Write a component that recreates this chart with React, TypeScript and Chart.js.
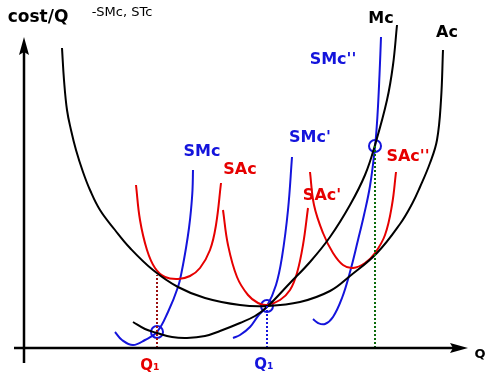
import React, { useEffect, useRef } from "react";
import { Chart, registerables } from "chart.js";

Chart.register(...registerables);

// Curves in (Q, cost/Q) units
const acQ = [38, 40, 43, 47, 52, 59, 66, 76, 91, 106, 129, 154, 181, 216, 243, 276, 306, 326, 353, 376, 388, 396, 406, 413, 417, 419];
const acC = [300, 268, 238, 218, 198, 176, 158, 138, 118, 100, 78, 61, 50, 43, 42, 46, 57, 72, 95, 124, 144, 161, 185, 208, 248, 298];

const mcQ = [109, 121, 133, 148, 163, 181, 196, 216, 231, 243, 266, 286, 306, 326, 341, 351, 363, 369, 373];
const mcC = [26, 19, 15, 11, 10, 12, 17, 25, 32, 41, 65, 86, 111, 143, 173, 203, 248, 283, 323];

const smcQ = [91, 98, 109, 121, 133, 144, 154, 158, 162, 165, 167, 168.5, 169];
const smcC = [16, 8, 3, 8, 16, 36, 61, 78, 100, 120, 138, 158, 178];

const smc1Q = [209, 216, 226, 234, 243, 252, 258, 264, 268];
const smc1C = [10, 13, 21, 32, 42, 63, 91, 138, 191];

const smc2Q = [289, 294, 301, 309, 318, 326, 334, 340, 346, 351, 353.5, 355.5, 357];
const smc2C = [29, 25, 24, 31, 50, 76, 108, 133, 162, 201, 233, 273, 311];

const sacQ = [112, 116, 123, 131, 141, 154, 166, 176, 186, 192, 197];
const sacC = [163, 128, 98, 80, 71, 69, 72, 80, 98, 123, 165];

const sac1Q = [199, 204, 213, 224, 234, 243, 256, 266, 273, 279, 284];
const sac1C = [138, 103, 71, 53, 45, 43, 48, 58, 75, 103, 140];

const sac2Q = [286, 290, 299, 309, 319, 329, 341, 351, 361, 368, 372];
const sac2C = [176, 143, 115, 95, 83, 80, 85, 95, 113, 143, 176];

// Equilibrium points (circles) and their quantities
const eqQ = [133, 243, 351];
const eqC = [16, 42, 202];
const dropTopC = [73, 42, 202];

const BLUE = "#1414dc";
const RED = "#e60000";
const FONT = "'DejaVu Sans', sans-serif";

const labels: { text: string; q: number; c: number; color: string; font: string }[] = [
  { text: "cost/Q", q: 14, c: 330, color: "#000", font: "bold 17px" },
  { text: "-SMc, STc", q: 98, c: 335, color: "#000", font: "13px" },
  { text: "Mc", q: 357, c: 329, color: "#000", font: "bold 16px" },
  { text: "Ac", q: 423, c: 315, color: "#000", font: "bold 16px" },
  { text: "SMc''", q: 309, c: 288, color: BLUE, font: "bold 16px" },
  { text: "SMc", q: 178, c: 196, color: BLUE, font: "bold 16px" },
  { text: "SMc'", q: 286, c: 210, color: BLUE, font: "bold 16px" },
  { text: "SAc", q: 216, c: 178, color: RED, font: "bold 16px" },
  { text: "SAc'", q: 298, c: 152, color: RED, font: "bold 16px" },
  { text: "SAc''", q: 384, c: 191, color: RED, font: "bold 16px" },
  { text: "Q₁", q: 126, c: -18, color: RED, font: "bold 15px" },
  { text: "Q₁", q: 240, c: -17, color: BLUE, font: "bold 15px" },
  { text: "Q", q: 456, c: -7, color: "#000", font: "bold 13px" },
];

const pts = (xs: number[], ys: number[]) => xs.map((x, i) => ({ x, y: ys[i] }));

const curve = (xs: number[], ys: number[], color: string) => ({
  data: pts(xs, ys),
  showLine: true,
  borderColor: color,
  borderWidth: 2,
  pointRadius: 0,
  tension: 0.4,
  fill: false,
  clip: false as any,
});

const drop = (i: number, color: string) => ({
  data: [
    { x: eqQ[i], y: 0 },
    { x: eqQ[i], y: dropTopC[i] },
  ],
  showLine: true,
  borderColor: color,
  borderWidth: 2,
  borderDash: [2, 2],
  pointRadius: 0,
  fill: false,
});

function makeArrow(): HTMLCanvasElement {
  const c = document.createElement("canvas");
  c.width = 10;
  c.height = 18;
  const g = c.getContext("2d")!;
  g.fillStyle = "#000";
  g.beginPath();
  g.moveTo(5, 0);
  g.lineTo(10, 18);
  g.lineTo(5, 15);
  g.lineTo(0, 18);
  g.closePath();
  g.fill();
  return c;
}

const labelPlugin = {
  id: "labels",
  afterDatasetsDraw(chart: any) {
    const ctx = chart.ctx;
    const xs = chart.scales.x;
    const ys = chart.scales.y;
    ctx.save();
    ctx.textAlign = "center";
    ctx.textBaseline = "middle";
    for (const l of labels) {
      ctx.font = `${l.font} ${FONT}`;
      ctx.fillStyle = l.color;
      ctx.fillText(l.text, xs.getPixelForValue(l.q), ys.getPixelForValue(l.c));
    }
    ctx.restore();
  },
};

export default function App() {
  const ref = useRef<HTMLCanvasElement>(null);
  useEffect(() => {
    if (!ref.current) return;
    const arrow = makeArrow();
    const chart = new Chart(ref.current, {
      type: "scatter",
      data: {
        datasets: [
          // axes
          {
            data: [
              { x: 0, y: -15 },
              { x: 0, y: 302 },
            ],
            showLine: true,
            borderColor: "#000",
            borderWidth: 2.5,
            pointStyle: arrow,
            pointRadius: [0, 8],
            pointRotation: 0,
            clip: false as any,
          },
          {
            data: [
              { x: -10, y: 0 },
              { x: 435, y: 0 },
            ],
            showLine: true,
            borderColor: "#000",
            borderWidth: 2.5,
            pointStyle: arrow,
            pointRadius: [0, 8],
            pointRotation: 90,
            clip: false as any,
          },
          drop(0, "#9a1010"),
          drop(1, BLUE),
          drop(2, "#0a6a0a"),
          curve(acQ, acC, "#000"),
          curve(mcQ, mcC, "#000"),
          curve(sacQ, sacC, RED),
          curve(sac1Q, sac1C, RED),
          curve(sac2Q, sac2C, RED),
          curve(smcQ, smcC, BLUE),
          curve(smc1Q, smc1C, BLUE),
          curve(smc2Q, smc2C, BLUE),
          {
            data: pts(eqQ, eqC),
            showLine: false,
            pointStyle: "circle",
            pointRadius: 6,
            borderColor: BLUE,
            borderWidth: 2,
            backgroundColor: "rgba(0,0,0,0)",
            clip: false as any,
          },
        ] as any,
      },
      options: {
        animation: false,
        responsive: false,
        devicePixelRatio: 1,
        layout: { padding: 0, autoPadding: false },
        plugins: { legend: { display: false }, tooltip: { enabled: false } },
        scales: {
          x: { type: "linear", min: -24, max: 480, display: false },
          y: { type: "linear", min: -40, max: 348, display: false },
        },
      },
      plugins: [labelPlugin],
    });
    return () => chart.destroy();
  }, []);
  return (
    <div style={{ position: "absolute", left: 0, top: 0, width: 504, height: 388, background: "#fff" }}>
      <canvas ref={ref} width={504} height={388} />
    </div>
  );
}
